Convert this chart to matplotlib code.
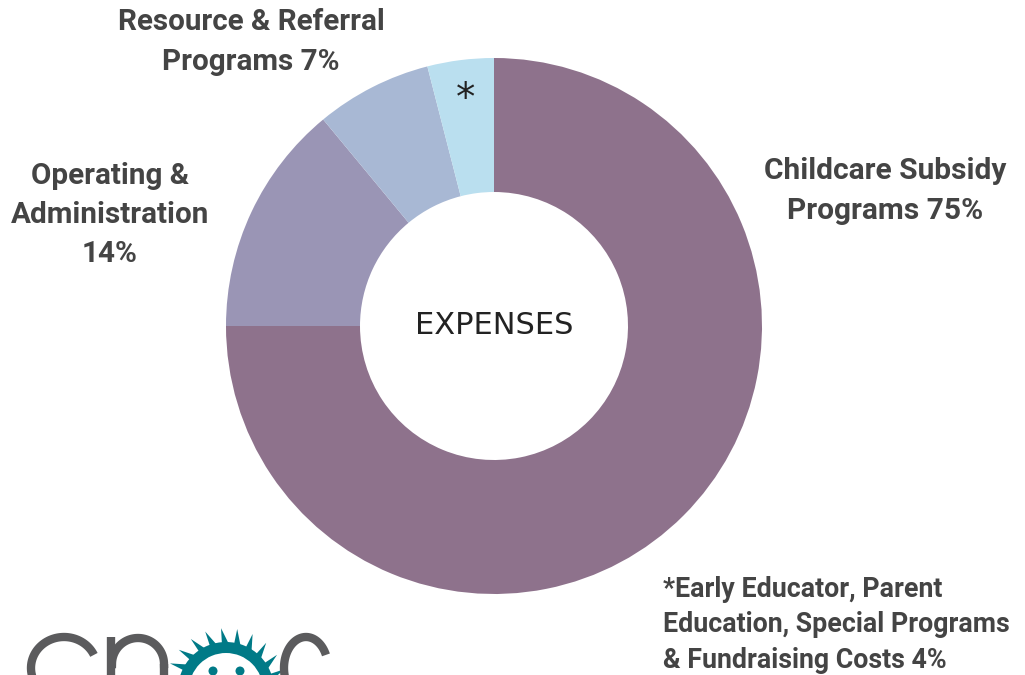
import matplotlib.pyplot as plt
import numpy as np
from matplotlib.patches import Wedge, Polygon, Circle

# datos del gráfico
categorias = ['Childcare Subsidy Programs', 'Operating & Administration',
              'Resource & Referral Programs', 'Other*']
valores = [75, 14, 7, 4]
colores = ['#8E728C', '#9A95B5', '#A8B8D4', '#BADFEF']
etiquetas = ['Childcare Subsidy\nPrograms 75%',
             'Operating &\nAdministration\n14%',
             'Resource & Referral\nPrograms 7%',
             '*']
nota = '*Early Educator, Parent\nEducation, Special Programs\n& Fundraising Costs 4%'

W, H = 1025, 675
fig = plt.figure(figsize=(W / 100, H / 100), dpi=100)
ax = fig.add_axes([0, 0, 1, 1])

cx, cy, r = 494, H - 326, 268
ax.pie(valores, colors=colores, startangle=90, counterclock=False,
       center=(cx, cy), radius=r,
       wedgeprops=dict(width=r * 0.5, linewidth=0))
ax.set_xlim(0, W)
ax.set_ylim(0, H)
ax.set_aspect('equal')
ax.axis('off')

txt = '#444444'
fuente = 'Roboto'
ax.text(885, H - 191, etiquetas[0], ha='center', va='center', fontsize=21.5,
        fontweight='bold', color=txt, family=fuente, linespacing=1.55)
ax.text(110, H - 215, etiquetas[1], ha='center', va='center', fontsize=21.3,
        fontweight='bold', color=txt, family=fuente, linespacing=1.5)
ax.text(251, H - 42, etiquetas[2], ha='center', va='center', fontsize=21.3,
        fontweight='bold', color=txt, family=fuente, linespacing=1.55)
ax.text(466, H - 99, etiquetas[3], ha='center', va='center', fontsize=28,
        color='#222222', family='DejaVu Sans')
ax.text(663, H - 625, nota, ha='left', va='center', fontsize=19.3,
        fontweight='bold', color=txt, family=fuente, linespacing=1.42)
ax.text(cx, cy, 'EXPENSES', ha='center', va='center', fontsize=22,
        color='#222222', family='DejaVu Sans')

# logotipo (recortado en el borde inferior), dibujado con trazos
gris = '#5b5b5d'
teal = '#007a87'
lw_logo = 6


def trazo_s(xc, rx):
    t = np.radians(np.linspace(25, 215, 80))
    xs = xc + rx * np.cos(t)
    ys = (H - 668) + 31 * np.sin(t)
    ax.plot(xs, ys, color=gris, lw=lw_logo, solid_capstyle='butt')


trazo_s(64, 33)
trazo_s(306, 22)
# letra n
ax.plot([111, 111], [H - 690, H - 637], color=gris, lw=lw_logo, solid_capstyle='butt')
t = np.radians(np.linspace(180, 0, 60))
ax.plot(138 + 26 * np.cos(t), (H - 664) + 26 * np.sin(t) * 1.0,
        color=gris, lw=lw_logo)
ax.plot([164, 164], [H - 664, H - 690], color=gris, lw=lw_logo, solid_capstyle='butt')

hx, hy = 226, H - 690
ax.add_patch(Wedge((hx, hy), 48, 0, 360, width=11, color=teal, lw=0))
for ang in np.linspace(15, 165, 11):
    a = np.radians(ang)
    b1, b2 = a - 0.09, a + 0.09
    tip = a + 0.08
    pts = [(hx + 44 * np.cos(b1), hy + 44 * np.sin(b1)),
           (hx + 44 * np.cos(b2), hy + 44 * np.sin(b2)),
           (hx + 62 * np.cos(tip), hy + 62 * np.sin(tip))]
    ax.add_patch(Polygon(pts, closed=True, color=teal, lw=0))
ax.add_patch(Circle((213, H - 671), 4.5, color=teal, lw=0))
ax.add_patch(Circle((240, H - 671), 4.5, color=teal, lw=0))

fig.savefig('out.png', dpi=100)
